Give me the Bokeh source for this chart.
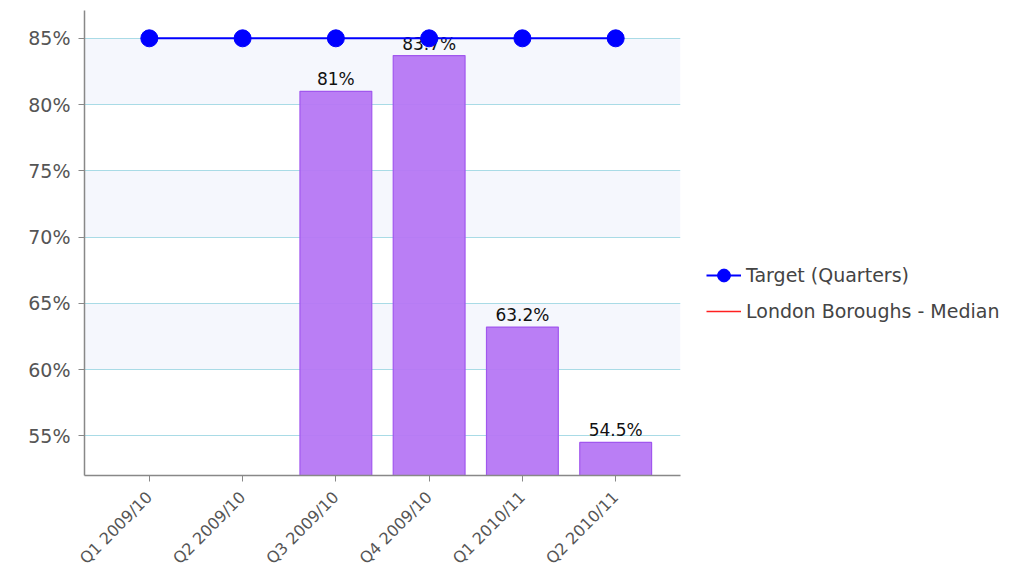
import math
from bokeh.plotting import figure
from bokeh.models import (ColumnDataSource, FactorRange, Range1d, SingleIntervalTicker, FixedTicker,
                          PrintfTickFormatter, Legend, LegendItem, Grid)
from bokeh.core.properties import value
from bokeh.embed import file_html
from bokeh.resources import INLINE

nan = float("nan")
quarters = ["Q1 2009/10", "Q2 2009/10", "Q3 2009/10", "Q4 2009/10", "Q1 2010/11", "Q2 2010/11"]
actual = [nan, nan, 81.0, 83.7, 63.2, 54.5]
actual_labels = ["", "", "81%", "83.7%", "63.2%", "54.5%"]
target = [85, 85, 85, 85, 85, 85]
median = [nan, nan, nan, nan, nan, nan]
band_ticks = [60, 65, 70, 75, 80, 85]
extra_line_ticks = [55]

FONT = "DejaVu Sans"
GRID_COLOR = "#a9dbe6"

src = ColumnDataSource(dict(q=quarters, actual=actual, lab=actual_labels,
                            target=target, median=median))

p = figure(x_range=FactorRange(*quarters, range_padding=0.065, range_padding_units="percent"),
           y_range=Range1d(52.0, 87.1),
           frame_width=596, frame_height=465, output_backend="svg", toolbar_location=None,
           min_border_left=84, min_border_right=0, min_border_top=10, min_border_bottom=80)
p.outline_line_color = None
p.background_fill_color = "white"

# grid: bands + lines on one grid, the 55% line on a second one
p.xgrid.grid_line_color = None
p.ygrid.ticker = FixedTicker(ticks=band_ticks)
p.ygrid.grid_line_color = GRID_COLOR
p.ygrid.grid_line_width = 1.2
p.ygrid.band_fill_color = "#f5f7fd"
p.ygrid.band_fill_alpha = 1.0
line_grid = Grid(dimension=1, ticker=FixedTicker(ticks=extra_line_ticks),
                 grid_line_color=GRID_COLOR, grid_line_width=1.2)
p.add_layout(line_grid)

# axes
p.yaxis.ticker = SingleIntervalTicker(interval=5)
p.yaxis.formatter = PrintfTickFormatter(format="%d%%")
for ax in (p.xaxis, p.yaxis):
    ax.axis_line_color = "#888888"
    ax.axis_line_width = 1.5
    ax.major_tick_line_color = "#888888"
    ax.minor_tick_line_color = None
    ax.major_tick_in = 0
    ax.major_tick_out = 6
    ax.major_label_text_font = FONT
    ax.major_label_text_color = "#555555"
p.yaxis.major_label_text_font_size = "19px"
p.yaxis.major_label_standoff = 8
p.xaxis.major_label_text_font_size = "16px"
p.xaxis.major_label_orientation = math.pi / 4
p.xaxis.major_label_standoff = 13

bars = p.vbar(x="q", top="actual", bottom=52.0, width=0.77, source=src,
              fill_color="#b677f4", fill_alpha=0.95, line_color="#a157ee", line_width=1.2)

p.text(x="q", y="actual", text="lab", source=src, text_font=value(FONT),
       text_font_size="17px", text_color="#111111", text_align="center",
       text_baseline="bottom", y_offset=-2)

med = p.line(x="q", y="median", source=src, line_color="#ff2020", line_width=1.5)
tline = p.line(x="q", y="target", source=src, line_color="#0000ff", line_width=2)
tpts = p.scatter(x="q", y="target", source=src, size=17, fill_color="#0000ff",
                 line_color="#0000ff")

legend = Legend(items=[LegendItem(label="Target (Quarters)", renderers=[tline, tpts]),
                       LegendItem(label="London Boroughs - Median", renderers=[med])],
                location=(26, 148), orientation="vertical")
legend.border_line_color = None
legend.background_fill_alpha = 0
legend.padding = 0
legend.margin = 0
legend.spacing = 4
legend.glyph_width = 35
legend.glyph_height = 32
legend.label_height = 32
legend.label_standoff = 5
legend.label_text_font = FONT
legend.label_text_font_size = "19px"
legend.label_text_color = "#444444"
p.add_layout(legend, "right")

open("out.html", "w").write(file_html(p, INLINE))
